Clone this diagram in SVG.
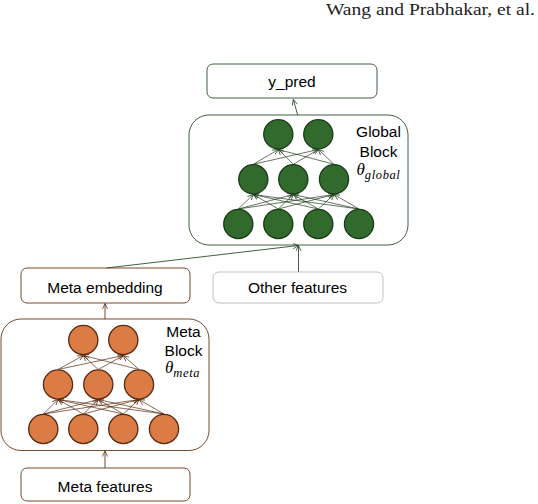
<svg xmlns="http://www.w3.org/2000/svg" width="538" height="504" viewBox="0 0 538 504">
<defs>
<style>
.t{font-family:"Liberation Sans",Arial,sans-serif;font-size:15.5px;fill:#000;text-anchor:middle}
.m{font-family:"Liberation Serif","DejaVu Serif",serif;font-style:italic;fill:#000}
.gbox{fill:none;stroke:#2b4f26;stroke-width:0.9}
.mbox{fill:none;stroke:#6a3515;stroke-width:0.9}
.obox{fill:none;stroke:#a8a8a8;stroke-width:0.7}
.gc{fill:#326a2d;stroke:#1b3a18;stroke-width:1.3}
.oc{fill:#db7b45;stroke:#5a2a10;stroke-width:1.3}
.ge{stroke:#1f3d1b;stroke-width:0.7;fill:none;marker-end:url(#ag)}
.me{stroke:#5a2a10;stroke-width:0.7;fill:none;marker-end:url(#am)}
.gl{stroke:#2b4f26;stroke-width:0.9;fill:none;marker-end:url(#ag)}
.ml{stroke:#6a3515;stroke-width:0.9;fill:none;marker-end:url(#am)}
</style>
<marker id="ag" viewBox="0 0 8 8" refX="7.5" refY="4" markerWidth="6" markerHeight="6" markerUnits="userSpaceOnUse" orient="auto"><path d="M0,0.5 L7.5,4 L0,7.5" fill="none" stroke="#1f3d1b" stroke-width="1"/></marker>
<marker id="am" viewBox="0 0 8 8" refX="7.5" refY="4" markerWidth="6" markerHeight="6" markerUnits="userSpaceOnUse" orient="auto"><path d="M0,0.5 L7.5,4 L0,7.5" fill="none" stroke="#5a2a10" stroke-width="1"/></marker>
</defs>
<rect width="538" height="504" fill="#fff"/>
<text x="535" y="15" font-family="'Liberation Serif','DejaVu Serif',serif" font-size="17" fill="#222" text-anchor="end" textLength="209" lengthAdjust="spacingAndGlyphs">Wang and Prabhakar, et al.</text>

<g id="connectors">
<g>
<line class="ge" x1="238.3" y1="209" x2="253.3" y2="194.5"/>
<line class="ge" x1="238.3" y1="209" x2="293.3" y2="194.5"/>
<line class="ge" x1="238.3" y1="209" x2="334" y2="194.5"/>
<line class="ge" x1="278.3" y1="209" x2="253.3" y2="194.5"/>
<line class="ge" x1="278.3" y1="209" x2="293.3" y2="194.5"/>
<line class="ge" x1="278.3" y1="209" x2="334" y2="194.5"/>
<line class="ge" x1="318.3" y1="209" x2="253.3" y2="194.5"/>
<line class="ge" x1="318.3" y1="209" x2="293.3" y2="194.5"/>
<line class="ge" x1="318.3" y1="209" x2="334" y2="194.5"/>
<line class="ge" x1="359" y1="209" x2="253.3" y2="194.5"/>
<line class="ge" x1="359" y1="209" x2="293.3" y2="194.5"/>
<line class="ge" x1="359" y1="209" x2="334" y2="194.5"/>
<line class="ge" x1="253.3" y1="164.3" x2="278.3" y2="149.5"/>
<line class="ge" x1="253.3" y1="164.3" x2="318.3" y2="149.5"/>
<line class="ge" x1="293.3" y1="164.3" x2="278.3" y2="149.5"/>
<line class="ge" x1="293.3" y1="164.3" x2="318.3" y2="149.5"/>
<line class="ge" x1="334" y1="164.3" x2="278.3" y2="149.5"/>
<line class="ge" x1="334" y1="164.3" x2="318.3" y2="149.5"/>
</g>
<g>
<line class="me" x1="43.3" y1="414" x2="58" y2="399.5"/>
<line class="me" x1="43.3" y1="414" x2="98.3" y2="399.5"/>
<line class="me" x1="43.3" y1="414" x2="139" y2="399.5"/>
<line class="me" x1="83.3" y1="414" x2="58" y2="399.5"/>
<line class="me" x1="83.3" y1="414" x2="98.3" y2="399.5"/>
<line class="me" x1="83.3" y1="414" x2="139" y2="399.5"/>
<line class="me" x1="123.3" y1="414" x2="58" y2="399.5"/>
<line class="me" x1="123.3" y1="414" x2="98.3" y2="399.5"/>
<line class="me" x1="123.3" y1="414" x2="139" y2="399.5"/>
<line class="me" x1="164" y1="414" x2="58" y2="399.5"/>
<line class="me" x1="164" y1="414" x2="98.3" y2="399.5"/>
<line class="me" x1="164" y1="414" x2="139" y2="399.5"/>
<line class="me" x1="58" y1="369.5" x2="83.3" y2="355.5"/>
<line class="me" x1="58" y1="369.5" x2="123.3" y2="355.5"/>
<line class="me" x1="98.3" y1="369.5" x2="83.3" y2="355.5"/>
<line class="me" x1="98.3" y1="369.5" x2="123.3" y2="355.5"/>
<line class="me" x1="139" y1="369.5" x2="83.3" y2="355.5"/>
<line class="me" x1="139" y1="369.5" x2="123.3" y2="355.5"/>
</g>
<line class="gl" x1="297.7" y1="115" x2="293.3" y2="99.5"/>
<line class="gl" x1="298.5" y1="272" x2="298.5" y2="245.5"/>
<line class="gl" x1="106.5" y1="268" x2="298.5" y2="245.5"/>
<line class="ml" x1="105" y1="319" x2="105" y2="303.5"/>
<line class="ml" x1="105" y1="468" x2="105" y2="451"/>
</g>

<g id="y_pred">
<rect class="gbox" x="207" y="64" width="170" height="34" rx="6"/>
<text class="t" x="292" y="87">y_pred</text>
</g>

<g id="global_block">
<rect class="gbox" x="189" y="115" width="219" height="130" rx="20"/>
<circle class="gc" cx="278.3" cy="134.3" r="14.6"/>
<circle class="gc" cx="318.3" cy="134.3" r="14.6"/>
<circle class="gc" cx="253.3" cy="179.3" r="14.6"/>
<circle class="gc" cx="293.3" cy="179.3" r="14.6"/>
<circle class="gc" cx="334" cy="179.3" r="14.6"/>
<circle class="gc" cx="238.3" cy="224" r="14.6"/>
<circle class="gc" cx="278.3" cy="224" r="14.6"/>
<circle class="gc" cx="318.3" cy="224" r="14.6"/>
<circle class="gc" cx="359" cy="224" r="14.6"/>
<text class="t" x="378.5" y="137">Global</text>
<text class="t" x="378.5" y="156.5">Block</text>
<text class="m" x="356.5" y="175" font-size="17">θ<tspan font-size="12.5" dy="4" letter-spacing="0.6">global</tspan></text>
</g>

<g id="other_features">
<rect class="obox" x="213" y="272" width="170" height="31" rx="6"/>
<text class="t" x="297.5" y="293">Other features</text>
</g>

<g id="meta_embedding">
<rect class="mbox" x="21" y="268" width="169" height="35" rx="6"/>
<text class="t" x="105" y="293">Meta embedding</text>
</g>

<g id="meta_block">
<rect class="mbox" x="1" y="319" width="208" height="131.5" rx="20"/>
<circle class="oc" cx="83.3" cy="340" r="14.6"/>
<circle class="oc" cx="123.3" cy="340" r="14.6"/>
<circle class="oc" cx="58" cy="384.5" r="14.6"/>
<circle class="oc" cx="98.3" cy="384.5" r="14.6"/>
<circle class="oc" cx="139" cy="384.5" r="14.6"/>
<circle class="oc" cx="43.3" cy="429" r="14.6"/>
<circle class="oc" cx="83.3" cy="429" r="14.6"/>
<circle class="oc" cx="123.3" cy="429" r="14.6"/>
<circle class="oc" cx="164" cy="429" r="14.6"/>
<text class="t" x="183.5" y="336.5">Meta</text>
<text class="t" x="183.5" y="355.5">Block</text>
<text class="m" x="165" y="373" font-size="17">θ<tspan font-size="12.5" dy="4" letter-spacing="0.6">meta</tspan></text>
</g>

<g id="meta_features">
<rect class="mbox" x="21" y="468" width="169" height="33" rx="6"/>
<text class="t" x="105" y="492">Meta features</text>
</g>
</svg>
